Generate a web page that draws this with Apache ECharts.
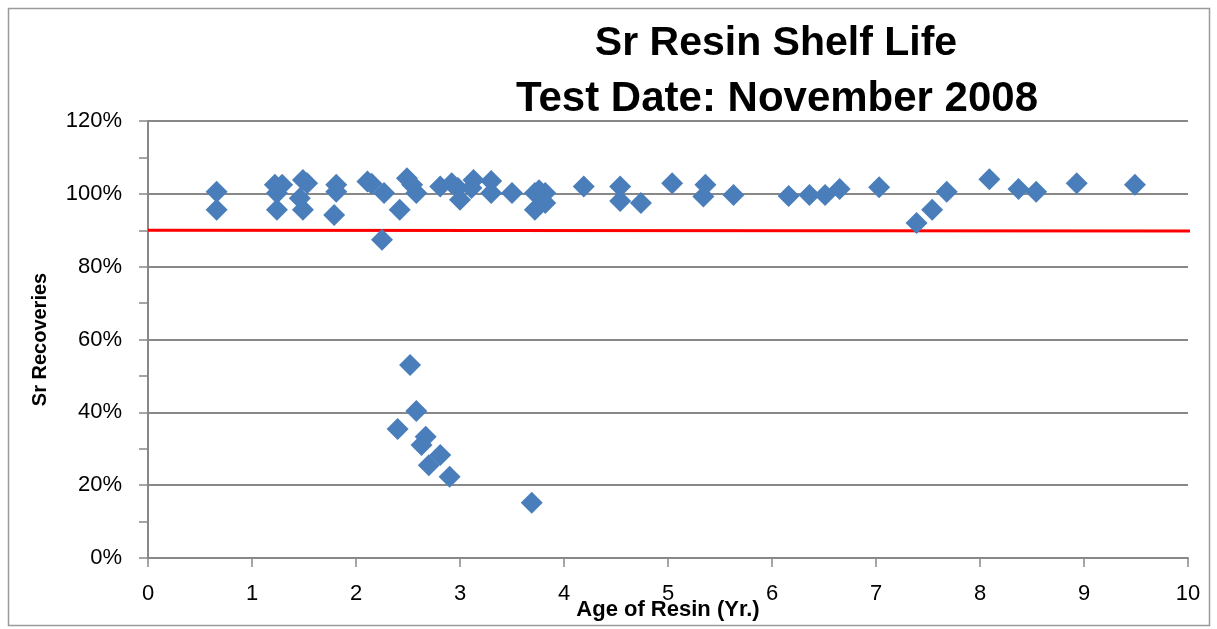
<!DOCTYPE html>
<html>
<head>
<meta charset="utf-8">
<script src="https://cdn.jsdelivr.net/npm/echarts@6/dist/echarts.min.js"></script>
<style>
  html, body { margin: 0; padding: 0; background: #fff; }
  #chart { width: 1217px; height: 629px; }
</style>
</head>
<body>
<div id="chart"></div>
<script>
// age of resin (years) and Sr recovery (%)
const ageYears = [
  0.66, 0.66, 1.22, 1.29, 1.24, 1.24, 1.49, 1.53, 1.46, 1.49,
  1.81, 1.81, 1.79, 2.11, 2.15, 2.27, 2.42, 2.25, 2.49, 2.54,
  2.58, 2.81, 2.92, 2.98, 3.00, 3.13, 3.11, 3.30, 3.30, 3.50,
  3.72, 3.72, 3.76, 3.82, 3.82, 4.19, 4.54, 4.54, 4.74, 5.04,
  5.36, 5.34, 5.63, 6.16, 6.36, 6.51, 6.65, 7.03, 7.39, 7.54,
  7.68, 8.09, 8.37, 8.54, 8.93, 9.49,
  2.52, 2.58, 2.40, 2.67, 2.63, 2.81, 2.70, 2.90, 3.69
]
const recoveryPct = [
  100.6, 95.6, 102.5, 102.5, 100.2, 95.6, 103.8, 102.9, 98.8, 95.6,
  102.5, 100.6, 94.2, 103.4, 102.8, 100.2, 95.6, 87.4, 104.3, 102.5,
  100.2, 102.0, 102.9, 101.6, 98.4, 103.8, 101.6, 103.5, 100.2, 100.2,
  100.2, 95.6, 101.0, 100.2, 97.5, 102.0, 102.0, 98.0, 97.5, 102.9,
  102.5, 99.3, 99.7, 99.4, 99.7, 99.7, 101.3, 101.8, 92.0, 95.6,
  100.6, 104.0, 101.3, 100.6, 102.9, 102.5,
  53.0, 40.4, 35.4, 33.3, 31.0, 28.3, 25.5, 22.3, 15.2
]
// 90% acceptance line
const limitX = [0, 10.05]
const limitY = [90, 89.8]

const titleLines = ['Sr Resin Shelf Life', 'Test Date: November 2008']

const FONT = '"Liberation Sans", Arial, sans-serif'

const chart = echarts.init(document.getElementById('chart'))

chart.setOption({
  animation: false,
  graphic: [
    {
      type: 'rect',
      shape: { x: 8.5, y: 8.5, width: 1201, height: 617 },
      style: { fill: 'none', stroke: '#9a9a9a', lineWidth: 1.5 },
      silent: true
    },
    {
      type: 'text', x: 776, y: 64,
      style: { text: titleLines[0], font: 'bold 41px ' + FONT, fill: '#000', textAlign: 'center', textVerticalAlign: 'bottom' }
    },
    {
      type: 'text', x: 777, y: 120,
      style: { text: titleLines[1], font: 'bold 42px ' + FONT, fill: '#000', textAlign: 'center', textVerticalAlign: 'bottom' }
    }
  ],
  grid: { left: 148, right: 29, top: 121, bottom: 71, outerBoundsMode: 'none', containLabel: false },
  xAxis: {
    type: 'value',
    min: 0,
    max: 10,
    interval: 1,
    name: 'Age of Resin (Yr.)',
    nameLocation: 'middle',
    nameGap: 41,
    nameMoveOverlap: false,
    nameTextStyle: { fontFamily: FONT, fontWeight: 'bold', fontSize: 22, color: '#000' },
    axisLine: { show: true, onZero: false, lineStyle: { color: '#888', width: 2 } },
    axisTick: { show: true, length: 9, lineStyle: { color: '#888', width: 1.5 } },
    axisLabel: { fontFamily: FONT, fontSize: 22, color: '#000', margin: 25 },
    splitLine: { show: false }
  },
  yAxis: {
    type: 'value',
    min: 0,
    max: 120,
    interval: 20,
    name: 'Sr Recoveries',
    nameLocation: 'middle',
    nameGap: 98,
    nameMoveOverlap: false,
    nameTextStyle: { fontFamily: FONT, fontWeight: 'bold', fontSize: 20, color: '#000' },
    axisLine: { show: true, lineStyle: { color: '#888', width: 2 } },
    axisTick: { show: true, length: 9, lineStyle: { color: '#888', width: 1.5 } },
    minorTick: { show: true, splitNumber: 2, length: 9, lineStyle: { color: '#888', width: 1.5 } },
    axisLabel: { fontFamily: FONT, fontSize: 22, color: '#000', margin: 26, formatter: '{value}%' },
    splitLine: { show: true, lineStyle: { color: '#888', width: 2 } }
  },
  series: [
    {
      type: 'line',
      data: limitX.map((x, i) => [x, limitY[i]]),
      symbol: 'none',
      clip: false,
      lineStyle: { color: '#ff0000', width: 3 },
      z: 2
    },
    {
      type: 'scatter',
      data: ageYears.map((x, i) => [x, recoveryPct[i]]),
      symbol: 'diamond',
      symbolSize: 22,
      itemStyle: { color: '#4a7ebb', opacity: 1 },
      z: 3
    }
  ]
})
</script>
</body>
</html>
